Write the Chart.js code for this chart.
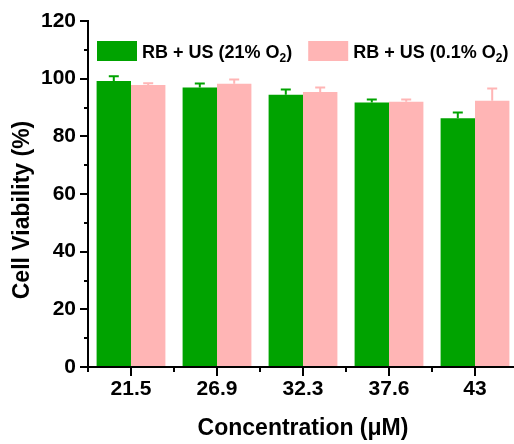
<!DOCTYPE html>
<html>
<head>
<meta charset="utf-8">
<script src="https://cdn.jsdelivr.net/npm/chart.js@4"></script>
<style>
  html, body { margin: 0; padding: 0; background: #fff; overflow: hidden; }
  #wrap { position: absolute; left: 0; top: 0; }
</style>
</head>
<body>
<div id="wrap"><canvas id="cellChart" width="520" height="444"></canvas></div>
<script>
// concentrations (uM)
const concentrations = ['21.5', '26.9', '32.3', '37.6', '43'];
// RB + US under 21% O2
const normoxia = [99.2, 96.9, 94.4, 91.7, 86.3];
const normoxiaErr = [1.6, 1.4, 1.8, 1.1, 2.0];
// RB + US under 0.1% O2
const hypoxia = [97.8, 98.2, 95.4, 92.0, 92.3];
const hypoxiaErr = [0.6, 1.5, 1.5, 0.8, 4.3];
const yTicks = [0, 20, 40, 60, 80, 100, 120];
const yTitle = 'Cell Viability (%)';

const GREEN = '#00a300';
const PINK = '#ffb5b5';
const FONT = '"Liberation Sans", Arial, sans-serif';

// upper error bars
const errorBars = {
  id: 'errorBars',
  afterDatasetsDraw(chart) {
    const ctx = chart.ctx, y = chart.scales.y;
    chart.data.datasets.forEach((ds, i) => {
      const meta = chart.getDatasetMeta(i);
      meta.data.forEach((bar, j) => {
        const top = y.getPixelForValue(ds.data[j] + ds.errors[j]);
        ctx.save();
        ctx.strokeStyle = ds.backgroundColor;
        ctx.lineWidth = 2;
        ctx.beginPath();
        ctx.moveTo(bar.x, bar.y);
        ctx.lineTo(bar.x, top);
        ctx.moveTo(bar.x - 5, top);
        ctx.lineTo(bar.x + 5, top);
        ctx.stroke();
        ctx.restore();
      });
    });
  }
};

// minor ticks on both axes
const minorTicks = {
  id: 'minorTicks',
  afterDraw(chart) {
    const ctx = chart.ctx, x = chart.scales.x, y = chart.scales.y;
    const area = chart.chartArea;
    ctx.save();
    ctx.strokeStyle = '#000';
    ctx.lineWidth = 2;
    ctx.beginPath();
    for (let v = 10; v < 120; v += 20) {
      const py = Math.round(y.getPixelForValue(v));
      ctx.moveTo(area.left - 4, py);
      ctx.lineTo(area.left, py);
    }
    const half = (x.getPixelForValue(1) - x.getPixelForValue(0)) / 2;
    for (let i = 0; i < concentrations.length; i++) {
      const px = Math.round(x.getPixelForValue(i) - half);
      ctx.moveTo(px, area.bottom);
      ctx.lineTo(px, area.bottom + 5);
    }
    ctx.stroke();
    ctx.restore();
  }
};

// y title, sits a bit below the middle of the axis
const yAxisTitle = {
  id: 'yAxisTitle',
  afterDraw(chart) {
    const ctx = chart.ctx, area = chart.chartArea;
    ctx.save();
    ctx.translate(23, (area.top + area.bottom) / 2 + 16);
    ctx.rotate(-Math.PI / 2);
    ctx.font = 'bold 23px ' + FONT;
    ctx.fillStyle = '#000';
    ctx.textAlign = 'center';
    ctx.textBaseline = 'middle';
    ctx.fillText(yTitle, 0, 0);
    ctx.restore();
  }
};

// legend inside the plot, with subscript 2
const insideLegend = {
  id: 'insideLegend',
  afterDraw(chart) {
    const ctx = chart.ctx, area = chart.chartArea;
    let px = area.left + 9;
    const top = area.top + 20;
    ctx.save();
    ctx.textBaseline = 'alphabetic';
    chart.data.datasets.forEach(ds => {
      ctx.fillStyle = ds.backgroundColor;
      ctx.fillRect(px, top, 40, 20);
      px += 45;
      const base = top + 17;
      const parts = ds.label.split('\u2082');
      ctx.fillStyle = '#000';
      ctx.font = 'bold 18px ' + FONT;
      ctx.fillText(parts[0], px, base);
      px += ctx.measureText(parts[0]).width;
      ctx.font = 'bold 12px ' + FONT;
      ctx.fillText('2', px, base + 4);
      px += ctx.measureText('2').width;
      ctx.font = 'bold 18px ' + FONT;
      ctx.fillText(parts[1], px, base);
      px += ctx.measureText(parts[1]).width + 16;
    });
    ctx.restore();
  }
};

new Chart(document.getElementById('cellChart'), {
  type: 'bar',
  data: {
    labels: concentrations,
    datasets: [{
        label: 'RB + US (21% O\u2082)',
        data: normoxia,
        errors: normoxiaErr,
        backgroundColor: GREEN
      }, {
        label: 'RB + US (0.1% O\u2082)',
        data: hypoxia,
        errors: hypoxiaErr,
        backgroundColor: PINK
      }
    ]
  },
  options: {
    responsive: false,
    devicePixelRatio: 1,
    animation: false,
    categoryPercentage: 0.8,
    barPercentage: 1.0,
    layout: { padding: { top: 21, right: 2, left: 0, bottom: 0 } },
    plugins: {
      legend: { display: false },
      tooltip: { enabled: false }
    },
    scales: {
      x: {
        offset: true,
        border: { color: '#000', width: 2 },
        grid: { offset: false, drawOnChartArea: false, color: '#000', lineWidth: 2, tickLength: 9 },
        ticks: { color: '#000', padding: 1, font: { family: FONT, size: 21, weight: 'bold' } },
        title: {
          display: true,
          text: 'Concentration (\u03bcM)',
          color: '#000',
          padding: { top: 0, bottom: 2 },
          font: { family: FONT, size: 23, weight: 'bold' }
        },
        afterFit(scale) { scale.height = 77; }
      },
      y: {
        min: 0,
        max: 120,
        border: { color: '#000', width: 2 },
        grid: { drawOnChartArea: false, color: '#000', lineWidth: 2, tickLength: 8 },
        afterBuildTicks(scale) { scale.ticks = yTicks.map(v => ({ value: v })); },
        ticks: { color: '#000', padding: 4, font: { family: FONT, size: 21, weight: 'bold' } },
        title: { display: false },
        afterFit(scale) { scale.width = 88; }
      }
    }
  },
  plugins: [errorBars, minorTicks, yAxisTitle, insideLegend]
});
</script>
</body>
</html>
